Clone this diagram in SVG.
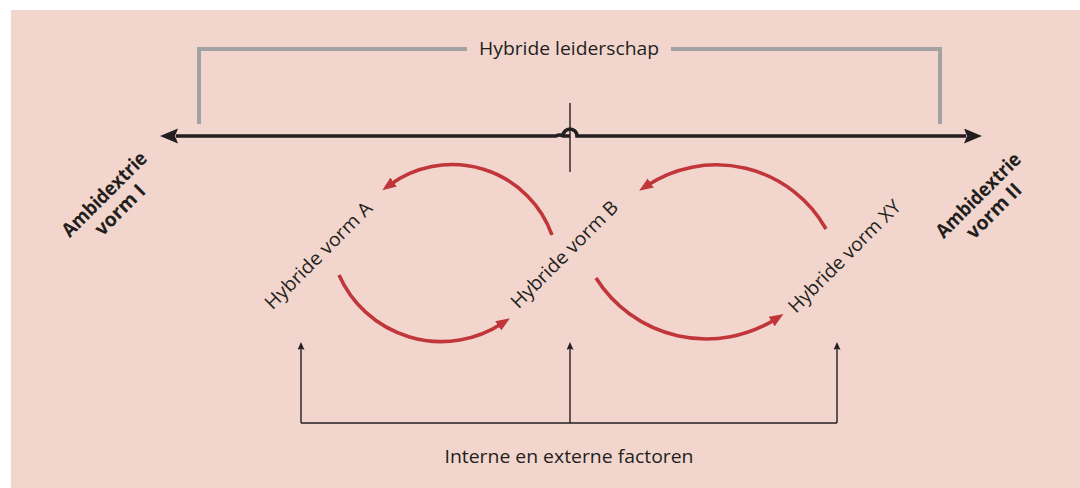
<svg xmlns="http://www.w3.org/2000/svg" width="1080" height="488" viewBox="0 0 1080 488">
  <style>
    .lbl { font-family: "Open Sans", "Liberation Sans", sans-serif; font-size: 19px; fill: #231F20; }
    .bold { font-family: "Open Sans", "Liberation Sans", sans-serif; font-size: 19.5px; font-weight: bold; fill: #231F20; }
    .gray { fill: none; stroke: #A2A2A2; stroke-width: 4; stroke-linejoin: miter; }
    .axis { fill: none; stroke: #231F20; stroke-width: 3.6; }
    .red { fill: none; stroke: #C1363B; stroke-width: 3.6; marker-end: url(#redHead); }
    .thin { fill: none; stroke: #231F20; stroke-width: 1.4; }
    .thinArrow { fill: none; stroke: #231F20; stroke-width: 1.4; marker-end: url(#smallHead); }
  </style>
  <defs>
    <marker id="redHead" markerUnits="userSpaceOnUse" markerWidth="16" markerHeight="12" refX="5" refY="5.5" orient="auto">
      <path d="M0,0 L14,5.5 L0,11 z" fill="#C1363B"/>
    </marker>
    <marker id="smallHead" markerUnits="userSpaceOnUse" markerWidth="10" markerHeight="8" refX="2" refY="3.5" orient="auto">
      <path d="M0,0 L8,3.5 L0,7 L1.5,3.5 z" fill="#231F20"/>
    </marker>
    <marker id="bigHead" markerUnits="userSpaceOnUse" markerWidth="20" markerHeight="16" refX="2" refY="7.5" orient="auto">
      <path d="M0,0 L18,7.5 L0,15 L3,7.5 z" fill="#231F20"/>
    </marker>
  </defs>

  <rect id="background" x="11" y="10" width="1069" height="478" fill="#F2D6CD"/>

  <g id="leiderschap">
    <path class="gray" d="M199,124 V49 H467"/>
    <path class="gray" d="M671,49 H940 V124"/>
    <text class="lbl" x="569" y="55" text-anchor="middle" textLength="180" lengthAdjust="spacingAndGlyphs">Hybride leiderschap</text>
  </g>

  <g id="connectors">
    <!-- main axis with hump -->
    <path class="axis" d="M570,136 H563 A7,7 0 0 0 556,136 H176" marker-end="url(#bigHead)"/>
    <path class="axis" d="M563,136 A7,7 0 0 1 577,136 H966" marker-end="url(#bigHead)"/>
    <path class="thin" d="M570,103 V172"/>

    <!-- red cycle arrows -->
    <path class="red" d="M552,235 A106,106 0 0 0 389.6,185"/>
    <path class="red" d="M339,275 A111.6,111.6 0 0 0 502.4,323.2"/>
    <path class="red" d="M826,229 A126,126 0 0 0 646.6,185.8"/>
    <path class="red" d="M596,278 A130.5,130.5 0 0 0 775.9,318.9"/>

    <!-- bottom factors -->
    <path class="thin" d="M301,423 H837"/>
    <path class="thinArrow" d="M301,423 V348"/>
    <path class="thinArrow" d="M570,423 V348"/>
    <path class="thinArrow" d="M837,423 V348"/>
  </g>

  <g id="ambidextrie-I">
    <text class="bold" transform="translate(109,199) rotate(-45)" text-anchor="middle"><tspan x="0" y="0" textLength="111" lengthAdjust="spacingAndGlyphs">Ambidextrie</tspan><tspan x="0" y="22">vorm I</tspan></text>
  </g>
  <g id="ambidextrie-II">
    <text class="bold" transform="translate(983,200) rotate(-45)" text-anchor="middle"><tspan x="0" y="0" textLength="111" lengthAdjust="spacingAndGlyphs">Ambidextrie</tspan><tspan x="0" y="22">vorm II</tspan></text>
  </g>

  <g id="hybride-A">
    <text class="lbl" transform="translate(323,260) rotate(-45)" text-anchor="middle" textLength="143" lengthAdjust="spacingAndGlyphs">Hybride vorm A</text>
  </g>
  <g id="hybride-B">
    <text class="lbl" transform="translate(569,259) rotate(-45)" text-anchor="middle" textLength="143" lengthAdjust="spacingAndGlyphs">Hybride vorm B</text>
  </g>
  <g id="hybride-XY">
    <text class="lbl" transform="translate(849,261) rotate(-45)" text-anchor="middle" textLength="150" lengthAdjust="spacingAndGlyphs">Hybride vorm XY</text>
  </g>

  <g id="factoren">
    <text class="lbl" x="569" y="463" text-anchor="middle" textLength="249" lengthAdjust="spacingAndGlyphs">Interne en externe factoren</text>
  </g>
</svg>
